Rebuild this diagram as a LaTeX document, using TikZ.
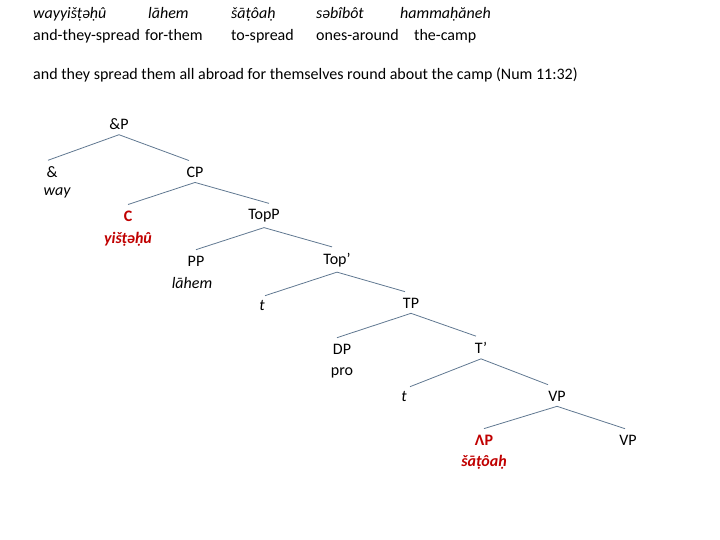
\documentclass[tikz,border=0pt]{standalone}
\usepackage{fontspec}
\setmainfont{Carlito}
\definecolor{treered}{RGB}{192,0,0}
\definecolor{branch}{RGB}{96,120,145}
\begin{document}
\begin{tikzpicture}[x=1pt,y=-1pt,
  txt/.style={font=\fontsize{16}{18}\selectfont, inner sep=0pt, anchor=base west},
  itxt/.style={txt, font=\fontsize{16}{18}\selectfont\itshape},
  cat/.style={font=\fontsize{16}{18}\selectfont, inner sep=3pt},
  word/.style={font=\fontsize{16}{18}\selectfont\itshape, inner sep=1pt},
  redcat/.style={cat, text=treered, font=\fontsize{16}{18}\selectfont\bfseries},
  redword/.style={word, text=treered, font=\fontsize{16}{18}\selectfont\itshape\bfseries},
  br/.style={draw=branch, line width=0.8pt}]
\useasboundingbox (0,0) rectangle (720,540);
% header
\node[itxt] (h1) at (33,19) {wayyišṭəḥû};
\node[itxt] (h2) at (148,19) {lāhem};
\node[itxt] (h3) at (231,19) {šāṭôaḥ};
\node[itxt] (h4) at (316,19) {səbîbôt};
\node[itxt] (h5) at (400,19) {hammaḥăneh};
\node[txt] (g1) at (33,41) {and-they-spread};
\node[txt] (g2) at (145,41) {for-them};
\node[txt] (g3) at (231,41) {to-spread};
\node[txt] (g4) at (316,41) {ones-around};
\node[txt] (g5) at (414,41) {the-camp};
\node[txt] (tr) at (33,80) {and they spread them all abroad for themselves round about the camp (Num 11:32)};
% tree
\node[cat] (andP) at (119,124) {\&P};
\node[cat] (amp) at (52,172) {\&};
\node[word] (way) at (57,193) {way};
\node[cat] (CP) at (195,172) {CP};
\node[redcat] (C) at (128,216) {C};
\node[redword] (yis) at (128,239) {yišṭəḥû};
\node[cat] (TopP) at (264,216) {TopP};
\node[cat] (PP) at (196,261) {PP};
\node[word] (lahem) at (192,283) {lāhem};
\node[cat] (Topb) at (337,260) {Top’};
\node[word] (t1) at (262,305) {t};
\node[cat] (TP) at (411,303) {TP};
\node[cat] (DP) at (342,349) {DP};
\node[cat] (pro) at (342,373) {pro};
\node[cat] (Tb) at (481,348) {T’};
\node[word] (t2) at (404,396) {t};
\node[cat] (VP) at (557,396) {VP};
\node[redcat] (AP) at (484,440) {ΛP};
\node[redword] (sat) at (484,462) {šāṭôaḥ};
\node[cat] (VP2) at (628,440) {VP};
% branches
\draw[br] ([yshift=-2pt]andP.south) -- ([xshift=-4pt,yshift=3pt]amp.north);
\draw[br] ([yshift=-2pt]andP.south) -- ([xshift=-6pt,yshift=3pt]CP.north);
\draw[br] ([yshift=-2pt]CP.south) -- ([yshift=3pt]C.north);
\draw[br] ([yshift=-2pt]CP.south) -- ([xshift=5pt,yshift=3pt]TopP.north);
\draw[br] ([yshift=-2pt]TopP.south) -- ([yshift=3pt]PP.north);
\draw[br] ([yshift=-2pt]TopP.south) -- ([xshift=-5pt,yshift=3pt]Topb.north);
\draw[br] ([yshift=-2pt]Topb.south) -- ([xshift=3pt,yshift=3pt]t1.north);
\draw[br] ([yshift=-2pt]Topb.south) -- ([xshift=-6pt,yshift=3pt]TP.north);
\draw[br] ([yshift=-2pt]TP.south) -- ([xshift=-5pt,yshift=3pt]DP.north);
\draw[br] ([yshift=-2pt]TP.south) -- ([xshift=-5pt,yshift=3pt]Tb.north);
\draw[br] ([yshift=-2pt]Tb.south) -- ([xshift=6pt,yshift=3pt]t2.north);
\draw[br] ([yshift=-2pt]Tb.south) -- ([xshift=-9pt,yshift=3pt]VP.north);
\draw[br] ([yshift=-2pt]VP.south) -- ([yshift=3pt]AP.north);
\draw[br] ([yshift=-2pt]VP.south) -- ([xshift=-3pt,yshift=3pt]VP2.north);
\end{tikzpicture}
\end{document}
